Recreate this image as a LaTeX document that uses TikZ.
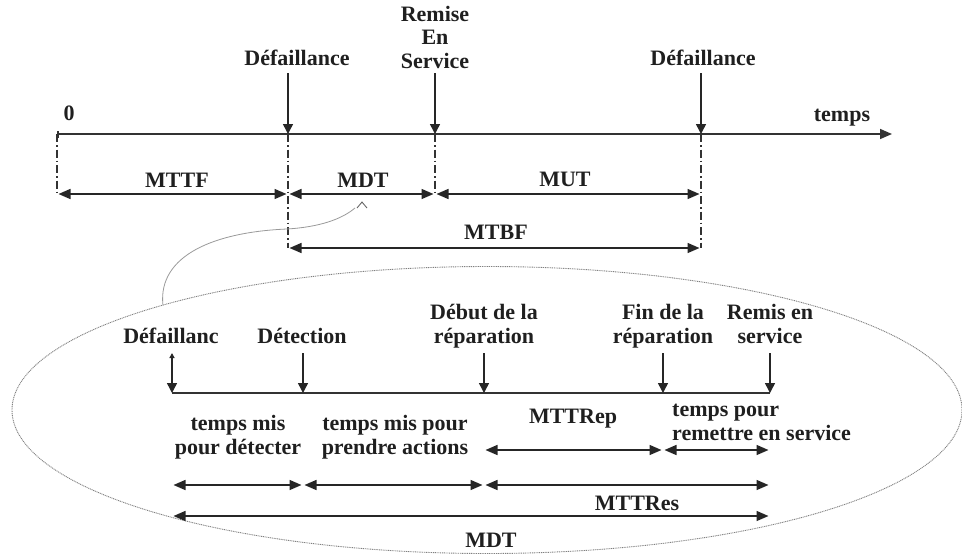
\documentclass[tikz,border=0pt]{standalone}
\usepackage{fontspec}
\setmainfont{Liberation Serif}
\usetikzlibrary{arrows.meta,shapes.geometric}
\begin{document}
\begin{tikzpicture}[x=1pt,y=-1pt,
  lbl/.style={font=\fontsize{22}{23.5}\selectfont\bfseries, inner sep=0pt, anchor=base, text=black!88},
  axis/.style={line width=1.6pt, draw=black!80},
  evt/.style={line width=1.5pt, draw=black!85, -{Triangle[length=10pt,width=10pt]}},
  dim/.style={line width=1.5pt, draw=black!85,
    {Triangle[length=12pt,width=10pt]}-{Triangle[length=12pt,width=10pt]},
    shorten <=1.5pt, shorten >=1.5pt},
  guide/.style={line width=1.4pt, draw=black!80, dash pattern=on 8pt off 3pt on 1.5pt off 3pt},
  zoomline/.style={line width=0.9pt, draw=black!50, dash pattern=on 1pt off 0.8pt},
  linkline/.style={line width=0.8pt, draw=black!40}]
\useasboundingbox (0,0) rectangle (962,558);

% ---------- global time line ----------
\coordinate (t0) at (57,134);
\coordinate (tend) at (892,134);
\coordinate (f1) at (288,134);
\coordinate (rs) at (435,134);
\coordinate (f2) at (701,134);
\draw[axis, {Bar[width=7pt]}-{Triangle[length=12pt,width=10pt]}] (t0) -- (tend);

% multi-line labels are placed by the baseline of their last line
\node[lbl] (zero) at (69,120) {0};
\node[lbl] (temps) at (842,121) {temps};
\node[lbl] (ldef1) at (297,65) {Défaillance};
\node[lbl, align=center] (lrem) at (435,68) {Remise\\En\\Service};
\node[lbl] (ldef2) at (703,65) {Défaillance};

\draw[evt] (ldef1.base -| f1) ++(0,8) -- (f1);
\draw[evt] (lrem.base -| rs) ++(0,5) -- (rs);
\draw[evt] (ldef2.base -| f2) ++(0,8) -- (f2);

% guide lines below the events
\coordinate (rowA) at (0,194);
\coordinate (rowB) at (0,248);
\draw[guide] (t0) -- (t0 |- rowA);
\draw[guide] (f1) -- (f1 |- rowB);
\draw[guide] (rs) -- (rs |- rowA);
\draw[guide] (f2) -- (f2 |- rowB);

% durations
\draw[dim] (t0 |- rowA) -- (f1 |- rowA);
\draw[dim] (f1 |- rowA) -- (rs |- rowA);
\draw[dim] (rs |- rowA) -- (f2 |- rowA);
\draw[dim] (f1 |- rowB) -- (f2 |- rowB);
\node[lbl] (mttf) at (177,187) {MTTF};
\node[lbl] (mdt) at (363,187) {MDT};
\node[lbl] (mut) at (565,186) {MUT};
\node[lbl] (mtbf) at (496,239) {MTBF};

% ---------- detail of the down time ----------
\node[ellipse, zoomline, minimum width=950pt, minimum height=287pt, inner sep=0pt] (zoom) at (487,410) {};
\coordinate (caret) at (362,202);
\draw[linkline] (zoom.162.5) .. controls (158,255) and (215,232) .. (287,229)
  .. controls (320,227) and (342,219) .. (355,208);
\draw[line width=0.9pt, draw=black!60] (caret) ++(-5,6) -- (caret) -- ++(5,6);

\coordinate (d0) at (172,393);
\coordinate (d1) at (303,393);
\coordinate (d2) at (484,393);
\coordinate (d3) at (663,393);
\coordinate (d4) at (770,393);
\draw[axis] (d0) -- (d4);

\node[lbl] (lfail) at (171,343) {Défaillanc};
\node[lbl] (ldet) at (302,343) {Détection};
\node[lbl, align=center] (lstart) at (484,343) {Début de la\\réparation};
\node[lbl, align=center] (lend) at (663,343) {Fin de la\\réparation};
\node[lbl, align=center] (lback) at (770,343) {Remis en\\service};

\draw[line width=1.4pt, draw=black!85, {Triangle[length=5pt,width=5pt]}-{Triangle[length=10pt,width=10pt]}] (lfail.base -| d0) ++(0,10) -- (d0);
\draw[evt] (ldet.base -| d1) ++(0,10) -- (d1);
\draw[evt] (lstart.base -| d2) ++(0,10) -- (d2);
\draw[evt] (lend.base -| d3) ++(0,10) -- (d3);
\draw[evt] (lback.base -| d4) ++(0,10) -- (d4);

\node[lbl, align=center] (tdet) at (238,454) {temps mis\\pour détecter};
\node[lbl, align=center] (tact) at (395,454) {temps mis pour\\prendre actions};
\node[lbl] (mttrep) at (573,423) {MTTRep};
\node[lbl, align=left, anchor=base west] (tserv) at (672,440) {temps pour\\remettre en service};

\coordinate (rowC) at (0,450);
\coordinate (rowD) at (0,485);
\coordinate (rowE) at (0,516);
\draw[dim] (d2 |- rowC) -- (d3 |- rowC);
\draw[dim] (d3 |- rowC) -- (d4 |- rowC);
\draw[dim] (d0 |- rowD) -- (d1 |- rowD);
\draw[dim] (d1 |- rowD) -- (d2 |- rowD);
\draw[dim] (d2 |- rowD) -- (d4 |- rowD);
\draw[dim] (d0 |- rowE) -- (d4 |- rowE);

\node[lbl] (mttres) at (637,510) {MTTRes};
\node[lbl] (mdtb) at (491,547) {MDT};
\end{tikzpicture}
\end{document}
